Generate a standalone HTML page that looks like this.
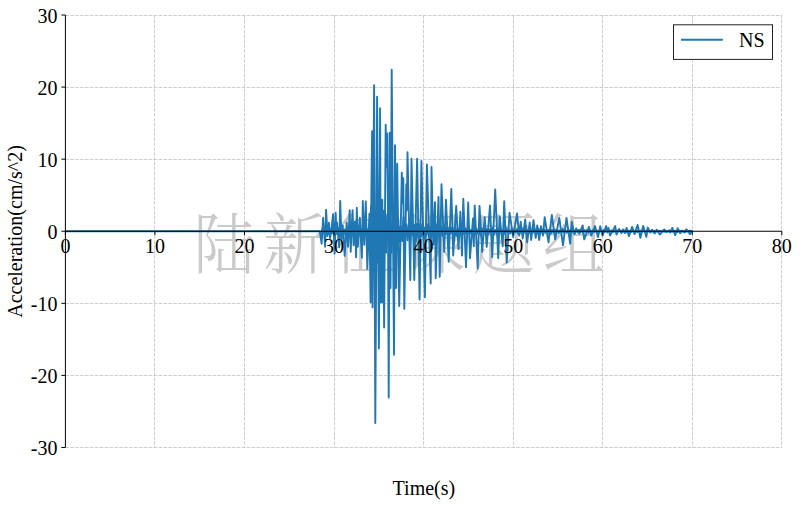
<!DOCTYPE html>
<html lang="zh">
<head>
<meta charset="utf-8">
<title>NS Acceleration Time History</title>
<style>
  html, body { margin:0; padding:0; background:#fff; }
  body { width:800px; height:507px; overflow:hidden; }
  svg { display:block; }
  svg text { font-family:"Liberation Serif","Noto Serif CJK SC",serif; font-size:20px; fill:#000; }
  .grid line { stroke:#c2c2c2; stroke-width:0.8; stroke-dasharray:3.6 1.3; }
  .ticks line, .spine { stroke:#000; stroke-width:1; }
  svg text.wm { font-family:"Liberation Serif","Noto Serif CJK SC",serif; font-size:65.5px; letter-spacing:8.0px; fill:#cacaca; font-weight:300; }
</style>
</head>
<body>
<svg width="800" height="507" viewBox="0 0 800 507">
  <rect width="800" height="507" fill="#ffffff"/>
  <g class="grid">
    <line x1="154.5" y1="15" x2="154.5" y2="447.5"/><line x1="244.5" y1="15" x2="244.5" y2="447.5"/><line x1="334.5" y1="15" x2="334.5" y2="447.5"/><line x1="423.5" y1="15" x2="423.5" y2="447.5"/><line x1="513.5" y1="15" x2="513.5" y2="447.5"/><line x1="602.5" y1="15" x2="602.5" y2="447.5"/><line x1="692.5" y1="15" x2="692.5" y2="447.5"/><line x1="781.5" y1="15" x2="781.5" y2="447.5"/><line x1="65.4" y1="15.5" x2="782" y2="15.5"/><line x1="65.4" y1="87.5" x2="782" y2="87.5"/><line x1="65.4" y1="159.5" x2="782" y2="159.5"/><line x1="65.4" y1="303.5" x2="782" y2="303.5"/><line x1="65.4" y1="375.5" x2="782" y2="375.5"/><line x1="65.4" y1="447.5" x2="782" y2="447.5"/>
  </g>
  <text class="wm" transform="translate(193.5,267.8) scale(0.95,1)">陆新征课题组</text>
  <polyline points="319.8,231.2 321.2,233.4 322.5,229.2 323.9,232.6 325.2,228.4 326.6,234.0 327.9,228.7 329.3,234.1 330.6,229.6 332.0,233.3 333.3,227.3 334.7,234.0 336.0,229.7 337.4,234.0 338.7,228.4 340.1,234.1 341.4,227.7 342.8,233.3 344.1,229.5 345.5,235.2 346.8,227.7 348.2,233.3 349.5,228.5 350.9,234.0 352.2,228.3 353.6,235.4 354.9,228.6 356.3,232.8 357.6,227.5 359.0,235.4 360.3,228.6 361.7,234.3 363.0,228.5 364.4,234.0 365.7,226.6 367.1,234.8 368.4,228.7 369.8,243.9 371.1,206.5 372.5,249.9 373.8,210.0 375.2,249.6 376.5,215.9 377.9,262.5 379.2,200.9 380.6,243.6 381.9,212.7 383.3,256.5 384.6,211.6 386.0,252.7 387.3,214.6 388.7,240.7 390.0,211.9 391.4,252.8 392.7,221.4 394.1,241.4 395.4,217.7 396.8,242.1 398.1,218.6 399.5,242.2 400.8,226.3 402.2,241.0 403.5,217.2 404.9,239.4 406.2,224.2 407.6,240.2 408.9,223.8 410.3,241.5 411.6,221.0 413.0,235.5 414.3,225.1 415.7,241.9 417.0,223.8 418.4,237.2 419.7,224.6 421.1,236.2 422.4,224.0 423.8,239.9 425.1,227.3 426.5,234.9 427.8,224.2 429.2,237.0 430.5,226.5 431.9,236.2 433.2,228.1 434.6,235.8 435.9,224.4 437.3,235.1 438.6,228.7 440.0,236.2 441.3,226.6 442.7,235.6 444.0,226.5 445.4,233.9 446.7,228.1 448.1,237.2 449.4,227.1 450.8,233.5 452.1,227.5 453.5,235.0 454.8,227.5 456.2,235.8 457.5,228.7 458.9,233.3 460.2,226.6 461.6,235.3 462.9,229.0 464.3,234.2 465.6,228.4 467.0,234.2 468.3,227.2 469.7,233.8 471.0,229.9 472.4,234.6 473.7,227.7 475.1,233.5 476.4,228.6 477.8,233.5 479.1,229.0 480.5,234.9 481.8,228.4 483.2,232.4 484.5,228.7 485.9,234.4 487.2,228.9 488.6,233.8 489.9,229.2 491.3,232.8 492.6,228.1 494.0,234.2 495.3,230.0 496.7,233.1 498.0,228.6 499.4,233.4 500.7,228.8 502.1,233.2 503.4,230.1 504.8,233.7 506.1,228.4 507.5,232.6 508.8,229.8 510.2,233.3 511.5,229.5 512.9,233.5 514.2,229.2 515.6,232.2 516.9,229.4 518.3,233.9 519.6,229.6 521.0,232.7 522.3,229.5 523.7,232.8 525.0,229.1 526.4,233.5 527.7,230.3 529.1,232.6 530.4,228.8 531.8,233.0 533.1,229.8 534.5,232.9 535.8,230.0 537.2,233.1 538.5,228.9 539.9,232.3 541.2,230.2 542.6,233.3 543.9,229.5 545.3,232.8 546.6,229.6 548.0,232.3 549.3,229.7 550.7,233.6 552.0,229.9 553.4,232.1 554.7,229.6 556.1,232.9 557.4,229.7 558.8,232.9 560.1,230.3 561.5,232.4 562.8,229.1 564.2,232.8 565.5,230.4 566.9,232.7 568.2,229.9 569.6,232.7 570.9,229.5 572.3,232.2 573.6,230.5 575.0,233.1 576.3,229.6 577.7,232.2 579.0,230.0 580.4,232.4 581.7,230.1 583.1,233.0 584.4,230.2 585.8,231.8 587.1,229.9 588.5,232.7 589.8,230.3 591.2,232.3 592.5,230.3 593.9,232.1 595.2,229.7 596.6,232.4 597.9,230.8 599.3,232.3 600.6,230.0 602.0,232.2 603.3,230.2 604.7,232.0 606.0,230.6 607.4,232.5 608.7,230.1 610.1,231.7 611.4,230.5 612.8,232.2 614.1,230.5 615.5,232.2 616.8,230.5 618.2,231.6 619.5,230.4 620.9,232.3 622.2,230.7 623.6,231.8 624.9,230.5 626.3,231.9 627.6,230.4 629.0,232.0 630.3,230.9 631.7,231.9 633.0,230.3 634.4,231.8 635.7,230.7 637.1,231.9 638.4,230.7 639.8,232.0 641.1,230.5 642.5,231.6 643.8,230.8 645.2,232.1 646.5,230.6 647.9,231.8 649.2,230.7 650.6,231.7 651.9,230.6 653.3,232.1 654.6,230.9 656.0,231.6 657.3,230.6 658.7,231.8 660.0,230.7 661.4,231.8 662.7,230.9 664.1,231.7 665.4,230.5 666.8,231.7 668.1,231.0 669.5,231.8 670.8,230.7 672.2,231.7 673.5,230.7 674.9,231.5 676.2,230.9 677.6,231.9 678.9,230.8 680.3,231.5 681.6,230.8 683.0,231.7 684.3,230.8 685.7,231.8 687.0,231.0 688.4,231.5 689.7,230.7 691.1,231.7 692.4,231.0" fill="none" stroke="#1f77b4" stroke-width="2.08" stroke-linejoin="round"/>
  <polyline points="65.4,231.2 319.8,231.2 321.6,243.7 323.1,217.8 325.1,246.7 326.1,209.6 327.5,236.1 328.9,222.8 330.1,238.2 331.5,228.6 333.1,214.2 334.6,253.7 335.7,212.9 336.4,233.9 337.0,222.4 339.2,247.2 340.2,201.0 341.5,239.0 342.7,225.4 344.7,255.8 346.7,222.4 348.0,246.7 349.7,210.1 350.7,251.7 351.8,225.0 352.6,210.1 353.6,245.2 355.0,221.4 356.1,257.3 356.8,207.8 357.8,246.7 359.8,217.8 361.0,241.1 361.9,257.7 362.8,201.0 364.3,244.7 365.8,201.5 367.3,268.9 369.4,213.6 370.6,302.2 371.4,188.9 372.1,131.3 372.6,307.4 374.1,85.1 375.3,423.1 377.1,96.7 378.9,348.5 380.1,108.2 380.8,302.4 381.3,210.6 381.8,302.4 382.3,199.8 382.8,302.4 383.4,210.6 384.1,327.6 385.7,124.8 386.4,167.3 387.2,133.4 388.0,217.8 388.7,397.5 389.7,132.7 390.5,288.0 391.7,69.6 394.0,354.7 395.0,145.3 396.2,288.0 397.2,163.7 399.2,306.0 401.8,172.6 402.5,203.4 403.3,178.1 404.3,308.9 406.3,184.3 406.8,210.6 407.5,152.2 410.3,280.0 411.5,158.7 414.3,280.0 417.1,158.7 419.6,299.5 421.4,161.0 424.9,297.3 426.9,164.4 430.7,283.5 431.5,167.0 433.3,244.7 435.0,202.1 435.7,278.2 438.5,196.9 439.7,276.8 441.5,184.2 444.2,251.9 446.0,199.8 448.7,261.8 451.3,188.9 453.2,255.5 456.2,205.9 458.5,249.1 460.4,211.6 462.0,255.5 463.3,198.7 466.0,267.1 468.2,202.5 470.0,258.1 473.0,218.5 473.8,246.2 474.7,205.5 477.7,268.5 479.5,205.9 482.2,251.9 484.7,217.1 486.7,246.9 490.0,205.5 492.2,257.3 495.2,189.4 498.2,258.1 499.7,216.3 502.7,246.2 504.2,201.2 506.7,262.5 509.5,212.7 513.2,237.1 517.0,213.4 519.2,235.6 520.7,221.7 522.7,238.5 525.2,219.4 527.2,242.3 529.7,222.5 531.2,240.0 533.5,220.1 535.7,237.8 537.2,225.4 539.2,240.0 541.0,226.1 543.0,235.6 544.7,217.1 548.5,242.3 551.8,215.0 555.2,239.3 559.3,217.9 563.0,245.3 566.5,217.9 570.2,243.8 571.7,221.7 574.3,234.1 576.2,228.4 579.2,233.6 582.7,225.4 584.2,239.3 589.0,226.9 591.2,235.6 595.0,226.1 598.0,237.1 600.2,226.1 602.5,235.6 606.2,226.1 607.3,230.7 608.5,227.9 610.0,235.6 615.2,226.1 616.5,234.6 619.0,228.9 621.5,233.1 623.0,229.4 625.0,233.1 626.6,227.9 629.0,236.2 632.1,226.9 634.6,234.1 637.6,225.0 640.4,237.7 643.2,225.9 646.4,236.9 647.7,227.4 650.4,232.6 652.2,229.8 654.7,233.6 656.7,229.8 659.8,234.6 664.3,229.4 666.3,232.1 669.3,230.2 670.3,232.6 672.3,227.9 675.2,235.1 677.6,228.2 680.2,233.3 681.9,230.5 684.4,232.6 686.4,229.2 690.0,234.1 691.5,230.8 692.7,231.2" fill="none" stroke="#1f77b4" stroke-width="1.9" stroke-linejoin="round"/>
  <line class="spine" x1="65.4" y1="15" x2="65.4" y2="447.5"/>
  <line class="spine" x1="65.4" y1="231.25" x2="782" y2="231.25"/>
  <g class="ticks">
    <line x1="65.40" y1="231.25" x2="65.40" y2="235.25"/><line x1="154.95" y1="231.25" x2="154.95" y2="235.25"/><line x1="244.50" y1="231.25" x2="244.50" y2="235.25"/><line x1="334.05" y1="231.25" x2="334.05" y2="235.25"/><line x1="423.60" y1="231.25" x2="423.60" y2="235.25"/><line x1="513.15" y1="231.25" x2="513.15" y2="235.25"/><line x1="602.70" y1="231.25" x2="602.70" y2="235.25"/><line x1="692.25" y1="231.25" x2="692.25" y2="235.25"/><line x1="781.80" y1="231.25" x2="781.80" y2="235.25"/><line x1="61.400000000000006" y1="15.01" x2="65.4" y2="15.01"/><line x1="61.400000000000006" y1="87.09" x2="65.4" y2="87.09"/><line x1="61.400000000000006" y1="159.17" x2="65.4" y2="159.17"/><line x1="61.400000000000006" y1="231.25" x2="65.4" y2="231.25"/><line x1="61.400000000000006" y1="303.33" x2="65.4" y2="303.33"/><line x1="61.400000000000006" y1="375.41" x2="65.4" y2="375.41"/><line x1="61.400000000000006" y1="447.49" x2="65.4" y2="447.49"/>
  </g>
  <g class="labels">
    <text x="65.40" y="253.2" text-anchor="middle">0</text><text x="154.95" y="253.2" text-anchor="middle">10</text><text x="244.50" y="253.2" text-anchor="middle">20</text><text x="334.05" y="253.2" text-anchor="middle">30</text><text x="423.60" y="253.2" text-anchor="middle">40</text><text x="513.15" y="253.2" text-anchor="middle">50</text><text x="602.70" y="253.2" text-anchor="middle">60</text><text x="692.25" y="253.2" text-anchor="middle">70</text><text x="781.80" y="253.2" text-anchor="middle">80</text><text x="57.5" y="22.51" text-anchor="end">30</text><text x="57.5" y="94.59" text-anchor="end">20</text><text x="57.5" y="166.67" text-anchor="end">10</text><text x="57.5" y="238.75" text-anchor="end">0</text><text x="57.5" y="310.83" text-anchor="end">-10</text><text x="57.5" y="382.91" text-anchor="end">-20</text><text x="57.5" y="454.99" text-anchor="end">-30</text>
  </g>
  <text x="423.9" y="494.6" text-anchor="middle">Time(s)</text>
  <text transform="translate(21.9,231.5) rotate(-90)" text-anchor="middle">Acceleration(cm/s^2)</text>
  <g class="legend">
    <rect x="673.5" y="24.8" width="99" height="34.6" fill="#fff" stroke="#222" stroke-width="1"/>
    <line x1="681" y1="39.8" x2="722.8" y2="39.8" stroke="#1f77b4" stroke-width="2.08"/>
    <text x="739" y="46.9">NS</text>
  </g>
</svg>
</body>
</html>
